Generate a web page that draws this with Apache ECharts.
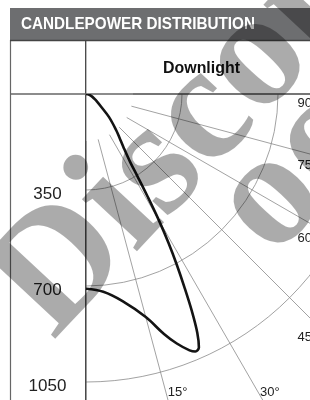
<!DOCTYPE html>
<html><head><meta charset="utf-8">
<script src="https://cdn.jsdelivr.net/npm/echarts@6/dist/echarts.min.js"></script>
<style>html,body{margin:0;padding:0;background:#fff;overflow:hidden}#c{width:310px;height:400px}</style>
</head><body><div id="c"></div>
<script>
// ---- data ----
const title = 'CANDLEPOWER DISTRIBUTION';
const columnTitle = 'Downlight';
const angles  = [0, 5, 10, 15, 18, 20, 22, 23, 24, 25, 26, 27, 28, 29, 30, 31, 32, 33, 35, 37.5, 40, 45, 50, 55, 60, 70, 80, 90];
const candela = [710, 724, 767, 842, 920, 968, 1008, 1020, 1012, 960, 880, 790, 705, 620, 530, 435, 355, 295, 240, 200, 170, 118, 72, 50, 36, 20, 8, 0];
const radiusTicks = [350, 700, 1050];
const angleTicks = [15, 30, 45, 60, 75, 90];
const angleTickLabels = ['15°', '30°', '45', '60', '75', '90'];
const watermark = 'Discontinued';
const watermark2 = 'oo';

// ---- layout ----
const CX = 86, CY = 94, RPX = 384, RMAX = 1400, INNER = 47;
const FRAME_X = 320, BOTTOM_LABEL_Y = 392;
const SANS = "'Liberation Sans',Arial,sans-serif";

const chart = echarts.init(document.getElementById('c'), null, {renderer: 'canvas'});

const angleBase = {type: 'value', min: 0, max: 90, interval: 15, startAngle: 270, endAngle: 360, clockwise: false,
  axisLine: {show: false}, axisTick: {show: false}, axisLabel: {show: false}};
const radiusBase = {type: 'value', min: 0, max: RMAX, interval: 350,
  axisLine: {show: false}, axisTick: {show: false}, axisLabel: {show: false}};

chart.setOption({
  animation: false,
  polar: [{center: [CX, CY], radius: RPX}, {center: [CX, CY], radius: [INNER, RPX]}],
  angleAxis: [
    Object.assign({}, angleBase, {polarIndex: 0, splitLine: {show: false}}),
    Object.assign({}, angleBase, {polarIndex: 1, splitLine: {show: true,
      lineStyle: {color: ['#7a7a7a', '#8a8a8a', '#8a8a8a', '#8a8a8a', '#8a8a8a', '#8a8a8a', '#222'], width: 0.8}}})
  ],
  radiusAxis: [
    Object.assign({}, radiusBase, {polarIndex: 0, splitLine: {show: true, lineStyle: {color: '#8a8a8a', width: 0.8}}}),
    Object.assign({}, radiusBase, {polarIndex: 1, splitLine: {show: false}})
  ],
  series: [{
    type: 'line', coordinateSystem: 'polar', polarIndex: 0,
    data: angles.map((a, i) => [candela[i], a]),
    smooth: 0.35, symbol: 'none', lineStyle: {color: '#141414', width: 2.6}, z: 5
  }]
});

// condensed text: scale a bold sans to the reference width
const mctx = document.createElement('canvas').getContext('2d');
function fitScale(text, font, target) { mctx.font = font; return target / mctx.measureText(text).width; }

const toPx = (r, a) => chart.convertToPixel({polarIndex: 0}, [r, a]);
const g = [];
const titleFont = 'bold 17px ' + SANS;
// frame
g.push({type: 'rect', shape: {x: 10, y: 8, width: 300, height: 32}, style: {fill: '#6d6e70'}, z: 1});
g.push({type: 'text', x: 21, y: 24, scaleX: fitScale(title, titleFont, 234), style: {text: title, fill: '#fff', font: titleFont, verticalAlign: 'middle'}, z: 2});
g.push({type: 'line', shape: {x1: 10.5, y1: 40, x2: 10.5, y2: 400}, style: {stroke: '#666', lineWidth: 1.2}, z: 1});
g.push({type: 'line', shape: {x1: 10, y1: 40.5, x2: 310, y2: 40.5}, style: {stroke: '#444', lineWidth: 1.5}, z: 1});
g.push({type: 'line', shape: {x1: 85.7, y1: 40, x2: 85.7, y2: 400}, style: {stroke: '#444', lineWidth: 1.3}, z: 1});
g.push({type: 'line', shape: {x1: 10, y1: CY, x2: 310, y2: CY}, style: {stroke: '#666', lineWidth: 1.4}, z: 1});
g.push({type: 'text', x: 201.5, y: 68, scaleX: fitScale(columnTitle, titleFont, 77), style: {text: columnTitle, fill: '#111', font: titleFont, align: 'center', verticalAlign: 'middle'}, z: 2});

// radius labels in left column
radiusTicks.forEach(v => {
  const p = toPx(v, 0);
  g.push({type: 'text', x: 47.5, y: p[1] + 4, style: {text: String(v), fill: '#222', font: '17px ' + SANS, align: 'center', verticalAlign: 'middle'}, z: 2});
});
// angle labels at the frame edge
angleTicks.forEach((a, i) => {
  const p0 = toPx(0, a), p1 = toPx(RMAX, a);
  const dx = p1[0] - p0[0], dy = p1[1] - p0[1];
  const yAtFrame = dx > 1e-6 ? p0[1] + (FRAME_X - p0[0]) / dx * dy : Infinity;
  if (yAtFrame < 400) {
    g.push({type: 'text', x: 312, y: yAtFrame + 2.5, style: {text: angleTickLabels[i], fill: '#222', font: '13px ' + SANS, align: 'right', verticalAlign: 'top'}, z: 2});
  } else {
    const x = p0[0] + (BOTTOM_LABEL_Y - p0[1]) / dy * dx;
    g.push({type: 'text', x: x + 2, y: BOTTOM_LABEL_Y, style: {text: angleTickLabels[i], fill: '#222', font: '13px ' + SANS, align: 'left', verticalAlign: 'middle'}, z: 2});
  }
});
// watermark
const wmStyle = {fill: 'rgba(0,0,0,0.33)', font: 'bold 165px "Liberation Serif",serif', verticalAlign: 'middle'};
g.push({type: 'text', x: 22, y: 312, rotation: 47 * Math.PI / 180, silent: true,
  style: Object.assign({text: watermark}, wmStyle), z: 100});
g.push({type: 'text', x: 242, y: 230, rotation: 47 * Math.PI / 180, silent: true,
  style: Object.assign({text: watermark2}, wmStyle), z: 100});

chart.setOption({graphic: {elements: g}});
</script></body></html>
